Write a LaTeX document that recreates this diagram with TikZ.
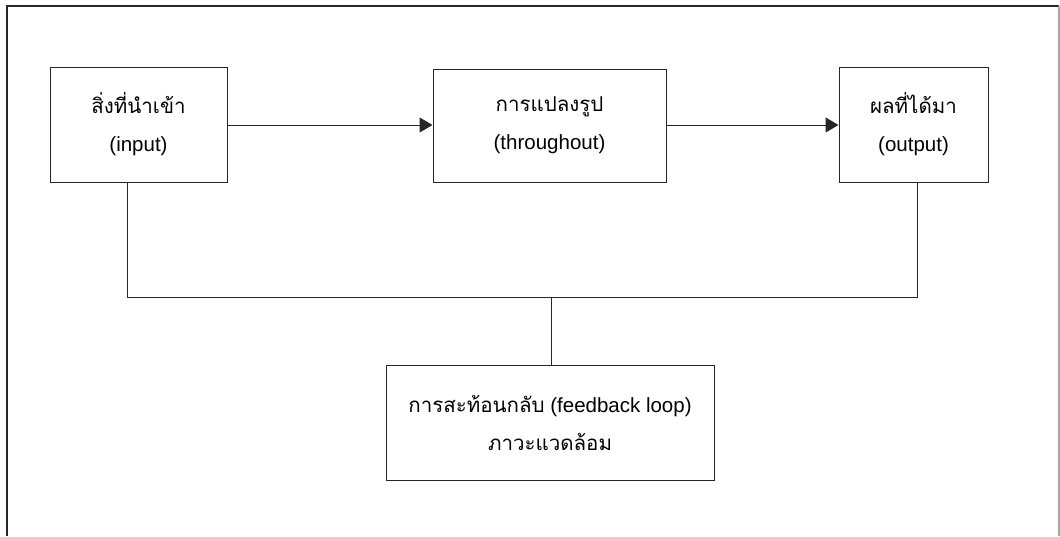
\documentclass[tikz,border=0pt]{standalone}
\usepackage{fontspec}
\setmainfont{Liberation Sans}
\newfontfamily\thaifont[Script=Thai]{Loma}
\usetikzlibrary{arrows.meta}
\begin{document}
\begin{tikzpicture}[x=1pt,y=-1pt,
  blockbox/.style={draw=black!85,line width=1pt,inner sep=0pt,align=center,
    font=\fontsize{20.5}{38}\selectfont},
  link/.style={draw=black!85,line width=1pt},
  flow/.style={link,-{Triangle[length=13pt,width=15pt]}}]
\useasboundingbox (0,0) rectangle (1060,536);
% outer frame, open at the bottom
\draw[line width=2.2pt,draw=black!85] (7,536) -- (7,6) -- (1059,6);
\draw[line width=1.2pt,draw=black!35] (1059,6) -- (1059,536);
% blocks
\node[blockbox,minimum width=177pt,minimum height=115pt] (in) at (138.5,124.5)
  {{\thaifont สิ่งที่นำเข้า}\\(input)};
\node[blockbox,minimum width=233pt,minimum height=113pt] (tr) at (549.5,125.5)
  {{\thaifont การแปลงรูป}\\(throughout)};
\node[blockbox,minimum width=149pt,minimum height=115pt] (out) at (913.5,124.5)
  {{\thaifont ผลที่ได้มา}\\(output)};
\node[blockbox,minimum width=328pt,minimum height=115pt] (fb) at (550,422.5)
  {{\thaifont การสะท้อนกลับ} (feedback loop)\\{\thaifont ภาวะแวดล้อม}};
% forward flow
\draw[flow] (in.east |- 0,125) -- (tr.west |- 0,125);
\draw[flow] (tr.east |- 0,125) -- (out.west |- 0,125);
% feedback connectors
\coordinate (jl) at (127,297);
\coordinate (jr) at (917,297);
\coordinate (jm) at (551,297);
\draw[link] (in.south -| jl) -- (jl) -- (jr) -- (out.south -| jr);
\draw[link] (jm) -- (fb.north -| jm);
\end{tikzpicture}
\end{document}
